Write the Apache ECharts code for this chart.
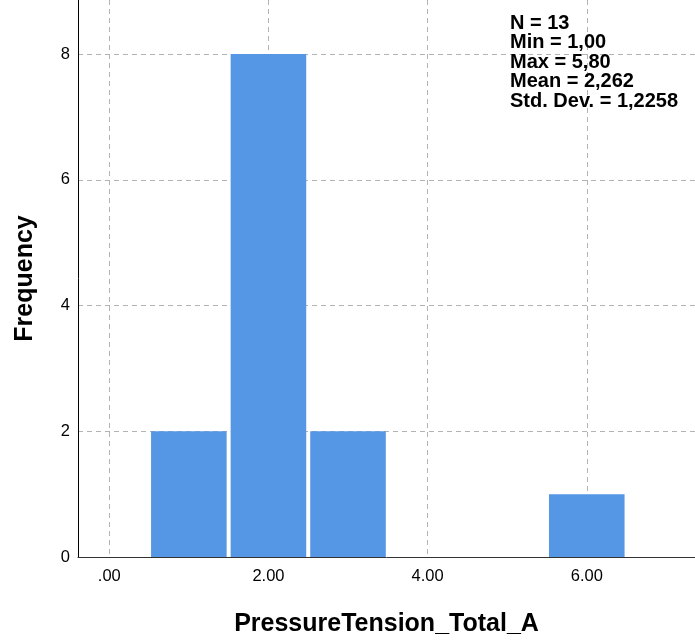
<!DOCTYPE html>
<html>
<head>
<meta charset="utf-8">
<script src="https://cdn.jsdelivr.net/npm/echarts@6/dist/echarts.min.js"></script>
<style>
html,body{margin:0;padding:0;background:#fff;}
#chart{width:695px;height:644px;}
</style>
</head>
<body>
<div id="chart"></div>
<script>
// Histogram bins (bin centres, width 1) and their frequencies
const binCenters = [1, 2, 3, 4, 5, 6];
const counts = [2, 8, 2, 0, 0, 1];
const binWidth = 1;
const xTicks = [0, 2, 4, 6];
const yTicks = [0, 2, 4, 6, 8];
const statsLines = ['N = 13', 'Min = 1,00', 'Max = 5,80', 'Mean = 2,262', 'Std. Dev. = 1,2258'];
const xTitle = 'PressureTension_Total_A';
const yTitle = 'Frequency';

const FONT = '"Liberation Sans", Arial, Helvetica, sans-serif';
const chart = echarts.init(document.getElementById('chart'), null, {renderer: 'canvas'});

const xMinA = -0.393, xMax = 7.36, yMax = 8.86;
const gridStyle = {color: '#b3b3b3', width: 1, type: [5, 4]};

const option = {
  animation: false,
  backgroundColor: '#fff',
  grid: [
    {left: 78, right: 0, top: 0, bottom: 87},
    {left: 109.3, right: 0, top: 0, bottom: 87}
  ],
  xAxis: [
    {
      type: 'value', gridIndex: 0, min: xMinA, max: xMax,
      axisLine: {show: true, onZero: false, lineStyle: {color: '#333', width: 1}},
      axisTick: {show: false}, axisLabel: {show: false}, splitLine: {show: false},
      name: xTitle, nameLocation: 'middle', nameGap: 55,
      nameTextStyle: {fontFamily: FONT, fontSize: 25, fontWeight: 'bold', color: '#000'}
    },
    {
      type: 'value', gridIndex: 1, min: 0, max: xMax, interval: 2,
      axisLine: {show: false, onZero: false}, axisTick: {show: false},
      axisLabel: {
        show: true, margin: 11, fontFamily: FONT, fontSize: 16.5, color: '#000',
        showMaxLabel: false,
        formatter: v => (xTicks.indexOf(v) >= 0 ? (v === 0 ? '.00' : v.toFixed(2)) : '')
      },
      splitLine: {show: true, showMaxLine: false, lineStyle: gridStyle}
    }
  ],
  yAxis: [
    {
      type: 'value', gridIndex: 0, min: 0, max: yMax, interval: 2,
      axisLine: {show: true, onZero: false, lineStyle: {color: '#000', width: 1}},
      axisTick: {show: false},
      axisLabel: {
        show: true, margin: 8, fontFamily: FONT, fontSize: 16.5, color: '#000',
        showMaxLabel: false,
        formatter: v => (yTicks.indexOf(v) >= 0 ? String(v) : '')
      },
      splitLine: {show: true, showMinLine: false, showMaxLine: false, lineStyle: gridStyle},
      name: yTitle, nameLocation: 'middle', nameGap: 40, nameRotate: 90,
      nameTextStyle: {fontFamily: FONT, fontSize: 25, fontWeight: 'bold', color: '#000'}
    },
    {
      type: 'value', gridIndex: 1, min: 0, max: yMax, show: false,
      axisLine: {onZero: false}
    }
  ],
  series: [{
    type: 'custom',
    xAxisIndex: 0, yAxisIndex: 0,
    data: binCenters.map((c, i) => [c, counts[i]]),
    renderItem: function (params, api) {
      const c = api.value(0), n = api.value(1);
      if (!n) return null;
      const p0 = api.coord([c - binWidth / 2, n]);
      const p1 = api.coord([c + binWidth / 2, 0]);
      const gap = 2;
      return {
        type: 'rect',
        shape: {x: p0[0] + gap, y: p0[1], width: p1[0] - p0[0] - 2 * gap, height: p1[1] - p0[1]},
        style: {fill: '#5596e5'}
      };
    }
  }],
  graphic: [{
    type: 'text', left: 510, top: 13, z: 10,
    style: {
      text: statsLines.join('\n'),
      font: 'bold 20px ' + FONT,
      lineHeight: 19.5,
      fill: '#000'
    }
  }]
};
chart.setOption(option);
</script>
</body>
</html>
